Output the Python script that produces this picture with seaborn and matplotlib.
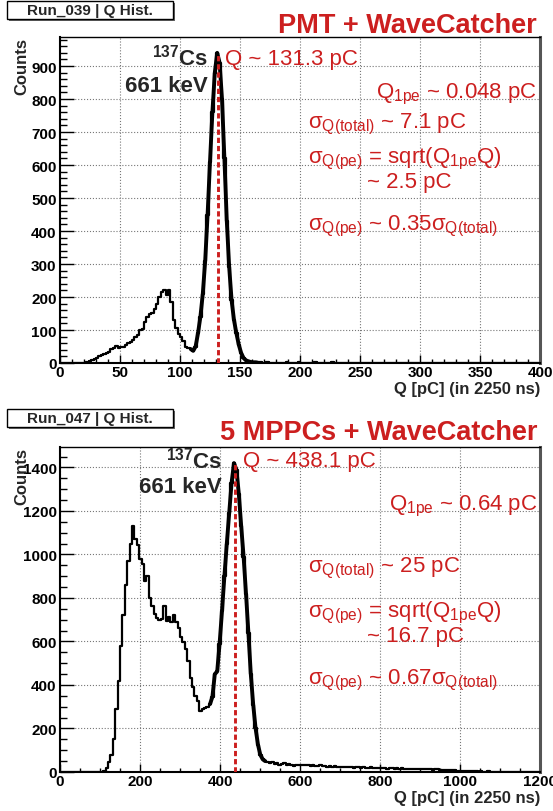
# Charge histograms: PMT vs 5 MPPCs, both read out with WaveCatcher
import numpy as np
import pandas as pd
import matplotlib
matplotlib.use("Agg")
import matplotlib.pyplot as plt
from matplotlib.patches import Rectangle
from matplotlib.ticker import MultipleLocator
import seaborn as sns

# PMT run (Run_039), 2 pC bins starting at 0
pmt_bin = 2
pmt_counts = [0, 0, 0, 0, 0, 0, 0, 0, 0, 0,
              1, 3, 5, 8, 12, 16, 20, 24, 28, 30,
              34, 42, 45, 53, 46, 48, 50, 54, 60, 64,
              70, 78, 85, 100, 104, 125, 140, 148, 152, 165,
              180, 200, 215, 220, 205, 220, 185, 130, 105, 88,
              80, 68, 50, 45, 42, 37, 50, 90, 140, 210,
              310, 450, 610, 760, 880, 940, 910, 800, 620, 430,
              290, 190, 130, 90, 55, 30, 15, 8, 5, 3,
              2, 2, 1, 2, 1, 1, 2, 1, 1, 0,
              1, 1, 0, 1, 2, 1, 0, 1, 1, 2,
              1, 0, 1, 1, 0, 1, 2, 1, 0, 1,
              1, 0, 1, 2, 1, 0, 1, 0, 1, 0,
              0, 1]
pmt_q = 131.3

# MPPC run (Run_047), 6 pC bins starting at 0
mppc_bin = 6
mppc_counts = [0, 0, 0, 0, 0, 0, 0, 0, 0, 0, 0, 0, 0, 0, 0, 0, 0, 0,
               5, 20, 45, 80, 150, 290, 420, 580, 720, 860,
               970, 1050, 1130, 1070, 1045, 980, 955, 880, 900, 800,
               765, 725, 710, 700, 705, 765, 695, 712, 690, 722,
               690, 660, 620, 598, 565, 510, 430, 392, 350, 328,
               282, 290, 295, 300, 312, 345, 450, 462, 590, 740,
               900, 1050, 1190, 1330, 1420, 1390, 1280, 1130, 990, 820,
               640, 450, 310, 200, 125, 78, 58, 50, 44, 40,
               46, 35, 42, 32, 36, 40, 33, 36, 30, 28,
               32, 30,
               34, 31, 33, 30, 29, 32, 28, 27, 30, 26, 28, 25, 27, 24, 26, 23,
               24, 22, 25, 21, 23, 22, 20, 23, 21, 19, 22, 20, 18, 21, 19, 20, 18,
               19, 17, 18, 16, 19, 17, 15, 18, 16, 17, 15, 16, 14, 16, 15, 13, 15,
               14, 13, 15, 12, 13, 11, 12, 13, 10, 11, 9, 10, 8, 9, 7, 6, 5,
               5, 4, 4, 3, 4, 3, 3, 2, 3, 2, 2, 3, 2, 2, 1, 2, 1,
               2, 1, 1, 2, 1, 1, 1, 0, 1, 1, 0, 1, 1, 0, 1, 0]
mppc_q = 438.1

red = '#cc1f1f'

sns.set_style("ticks")
plt.rcParams['font.family'] = ['Liberation Sans', 'DejaVu Sans']
plt.rcParams['mathtext.default'] = 'regular'

fig = plt.figure(figsize=(5.53, 8.12), dpi=100)
ax1 = fig.add_axes([60 / 553, 1 - 364 / 812, 480 / 553, 326 / 812])
ax2 = fig.add_axes([60 / 553, 1 - 773 / 812, 480 / 553, 325 / 812])


def draw_hist(ax, counts, width, xmax, ymax, q, fit_lo, fit_hi):
    df = pd.DataFrame({'count': counts})
    df['q'] = np.arange(len(df)) * width + width / 2
    sns.histplot(data=df, x='q', weights='count', binwidth=width, binrange=(0, xmax),
                 element='step', fill=False, color='black', linewidth=1.6, ax=ax)
    # fit curve over the photopeak
    fit = df[(df['q'] >= fit_lo) & (df['q'] <= fit_hi)]
    sns.lineplot(data=fit, x='q', y='count', color='black', linewidth=2.8, ax=ax)
    ax.vlines(q, 0, df['count'].max(), colors=red, linestyles=(0, (1.8, 1.0)), linewidth=2.1, zorder=5)
    ax.set_xlim(0, xmax)
    ax.set_ylim(0, ymax)
    ax.set_xlabel('')
    ax.set_ylabel('')
    ax.grid(True, which='major', linestyle=':', color='#777777', linewidth=0.8)
    ax.tick_params(which='both', direction='in', top=False, right=False, colors='black')
    ax.tick_params(axis='x', which='major', length=6, width=1, pad=1.5, labelsize=11)
    ax.tick_params(axis='x', which='minor', length=3, width=1)
    ax.tick_params(axis='y', which='major', length=10, width=1, pad=2.5, labelsize=11)
    ax.tick_params(axis='y', which='minor', length=5, width=1)
    for s in ['left', 'bottom']:
        ax.spines[s].set_linewidth(1.5)
        ax.spines[s].set_color('black')
    ax.spines['top'].set_linewidth(1.0)
    ax.spines['top'].set_color('black')
    ax.spines['right'].set_linewidth(2.2)
    ax.spines['right'].set_color('#555555')
    ax.text(-0.079, 1.0, 'Counts', transform=ax.transAxes, rotation=90,
            ha='center', va='top', fontweight='bold', fontsize=12)
    ax.text(1.0, -0.092, 'Q [pC] (in 2250 ns)', transform=ax.transAxes,
            ha='right', va='baseline', fontweight='bold', fontsize=12)


draw_hist(ax1, pmt_counts, pmt_bin, 400, 988, pmt_q, 108, 166)
ax1.xaxis.set_major_locator(MultipleLocator(50))
ax1.xaxis.set_minor_locator(MultipleLocator(10))
ax1.yaxis.set_major_locator(MultipleLocator(100))
ax1.yaxis.set_minor_locator(MultipleLocator(20))

draw_hist(ax2, mppc_counts, mppc_bin, 1200, 1494, mppc_q, 372, 516)
ax2.xaxis.set_major_locator(MultipleLocator(200))
ax2.xaxis.set_minor_locator(MultipleLocator(50))
ax2.yaxis.set_major_locator(MultipleLocator(200))
ax2.yaxis.set_minor_locator(MultipleLocator(50))
for ax in (ax1, ax2):
    for lab in ax.get_xticklabels() + ax.get_yticklabels():
        lab.set_fontweight('bold')

# annotations, top panel
kw = dict(color=red, fontsize=16, va='baseline')
ax1.text(123.3, 906, r'$^{137}$Cs', ha='right', va='baseline', fontsize=16, fontweight='bold')
ax1.text(123.3, 824, '661 keV', ha='right', va='baseline', fontsize=16, fontweight='bold')
ax1.text(137.5, 906, 'Q ~ 131.3 pC', ha='left', **kw)
ax1.text(397.5, 806, 'Q$_{1pe}$ ~ 0.048 pC', ha='right', **kw)
ax1.text(206.7, 715, 'σ$_{Q(total)}$ ~ 7.1 pC', ha='left', **kw)
ax1.text(206.7, 609, 'σ$_{Q(pe)}$ = sqrt(Q$_{1pe}$Q)', ha='left', **kw)
ax1.text(255.8, 533, '~ 2.5 pC', ha='left', **kw)
ax1.text(206.7, 406, 'σ$_{Q(pe)}$ ~ 0.35σ$_{Q(total)}$', ha='left', **kw)

# annotations, bottom panel
ax2.text(405, 1402, r'$^{137}$Cs', ha='right', va='baseline', fontsize=16, fontweight='bold')
ax2.text(405, 1287, '661 keV', ha='right', va='baseline', fontsize=16, fontweight='bold')
ax2.text(457.5, 1407, 'Q ~ 438.1 pC', ha='left', **kw)
ax2.text(1192.5, 1209, 'Q$_{1pe}$ ~ 0.64 pC', ha='right', **kw)
ax2.text(620, 924, 'σ$_{Q(total)}$ ~ 25 pC', ha='left', **kw)
ax2.text(620, 717, 'σ$_{Q(pe)}$ = sqrt(Q$_{1pe}$Q)', ha='left', **kw)
ax2.text(767.5, 602, '~ 16.7 pC', ha='left', **kw)
ax2.text(620, 405, 'σ$_{Q(pe)}$ ~ 0.67σ$_{Q(total)}$', ha='left', **kw)

# ROOT style title boxes and red headers
for top_px, name in [(2, 'Run_039 | Q Hist.'), (410, 'Run_047 | Q Hist.')]:
    h = 18
    fig.patches.append(Rectangle((8.5 / 553, 1 - (top_px + h + 1.5) / 812), 166 / 553, h / 812,
                                 transform=fig.transFigure, facecolor='#666666', edgecolor='none'))
    fig.patches.append(Rectangle((7 / 553, 1 - (top_px + h) / 812), 166 / 553, h / 812,
                                 transform=fig.transFigure, facecolor='white', edgecolor='black', linewidth=1))
    fig.text(90 / 553, 1 - (top_px + h / 2 + 0.5) / 812, name, ha='center', va='center',
             fontsize=11, fontweight='bold')

fig.text(537 / 553, 1 - 33 / 812, 'PMT + WaveCatcher', ha='right', va='baseline',
         color=red, fontsize=19.5, fontweight='bold')
fig.text(537 / 553, 1 - 440 / 812, '5 MPPCs + WaveCatcher', ha='right', va='baseline',
         color=red, fontsize=19.5, fontweight='bold')

plt.savefig('out.png', dpi=100)
